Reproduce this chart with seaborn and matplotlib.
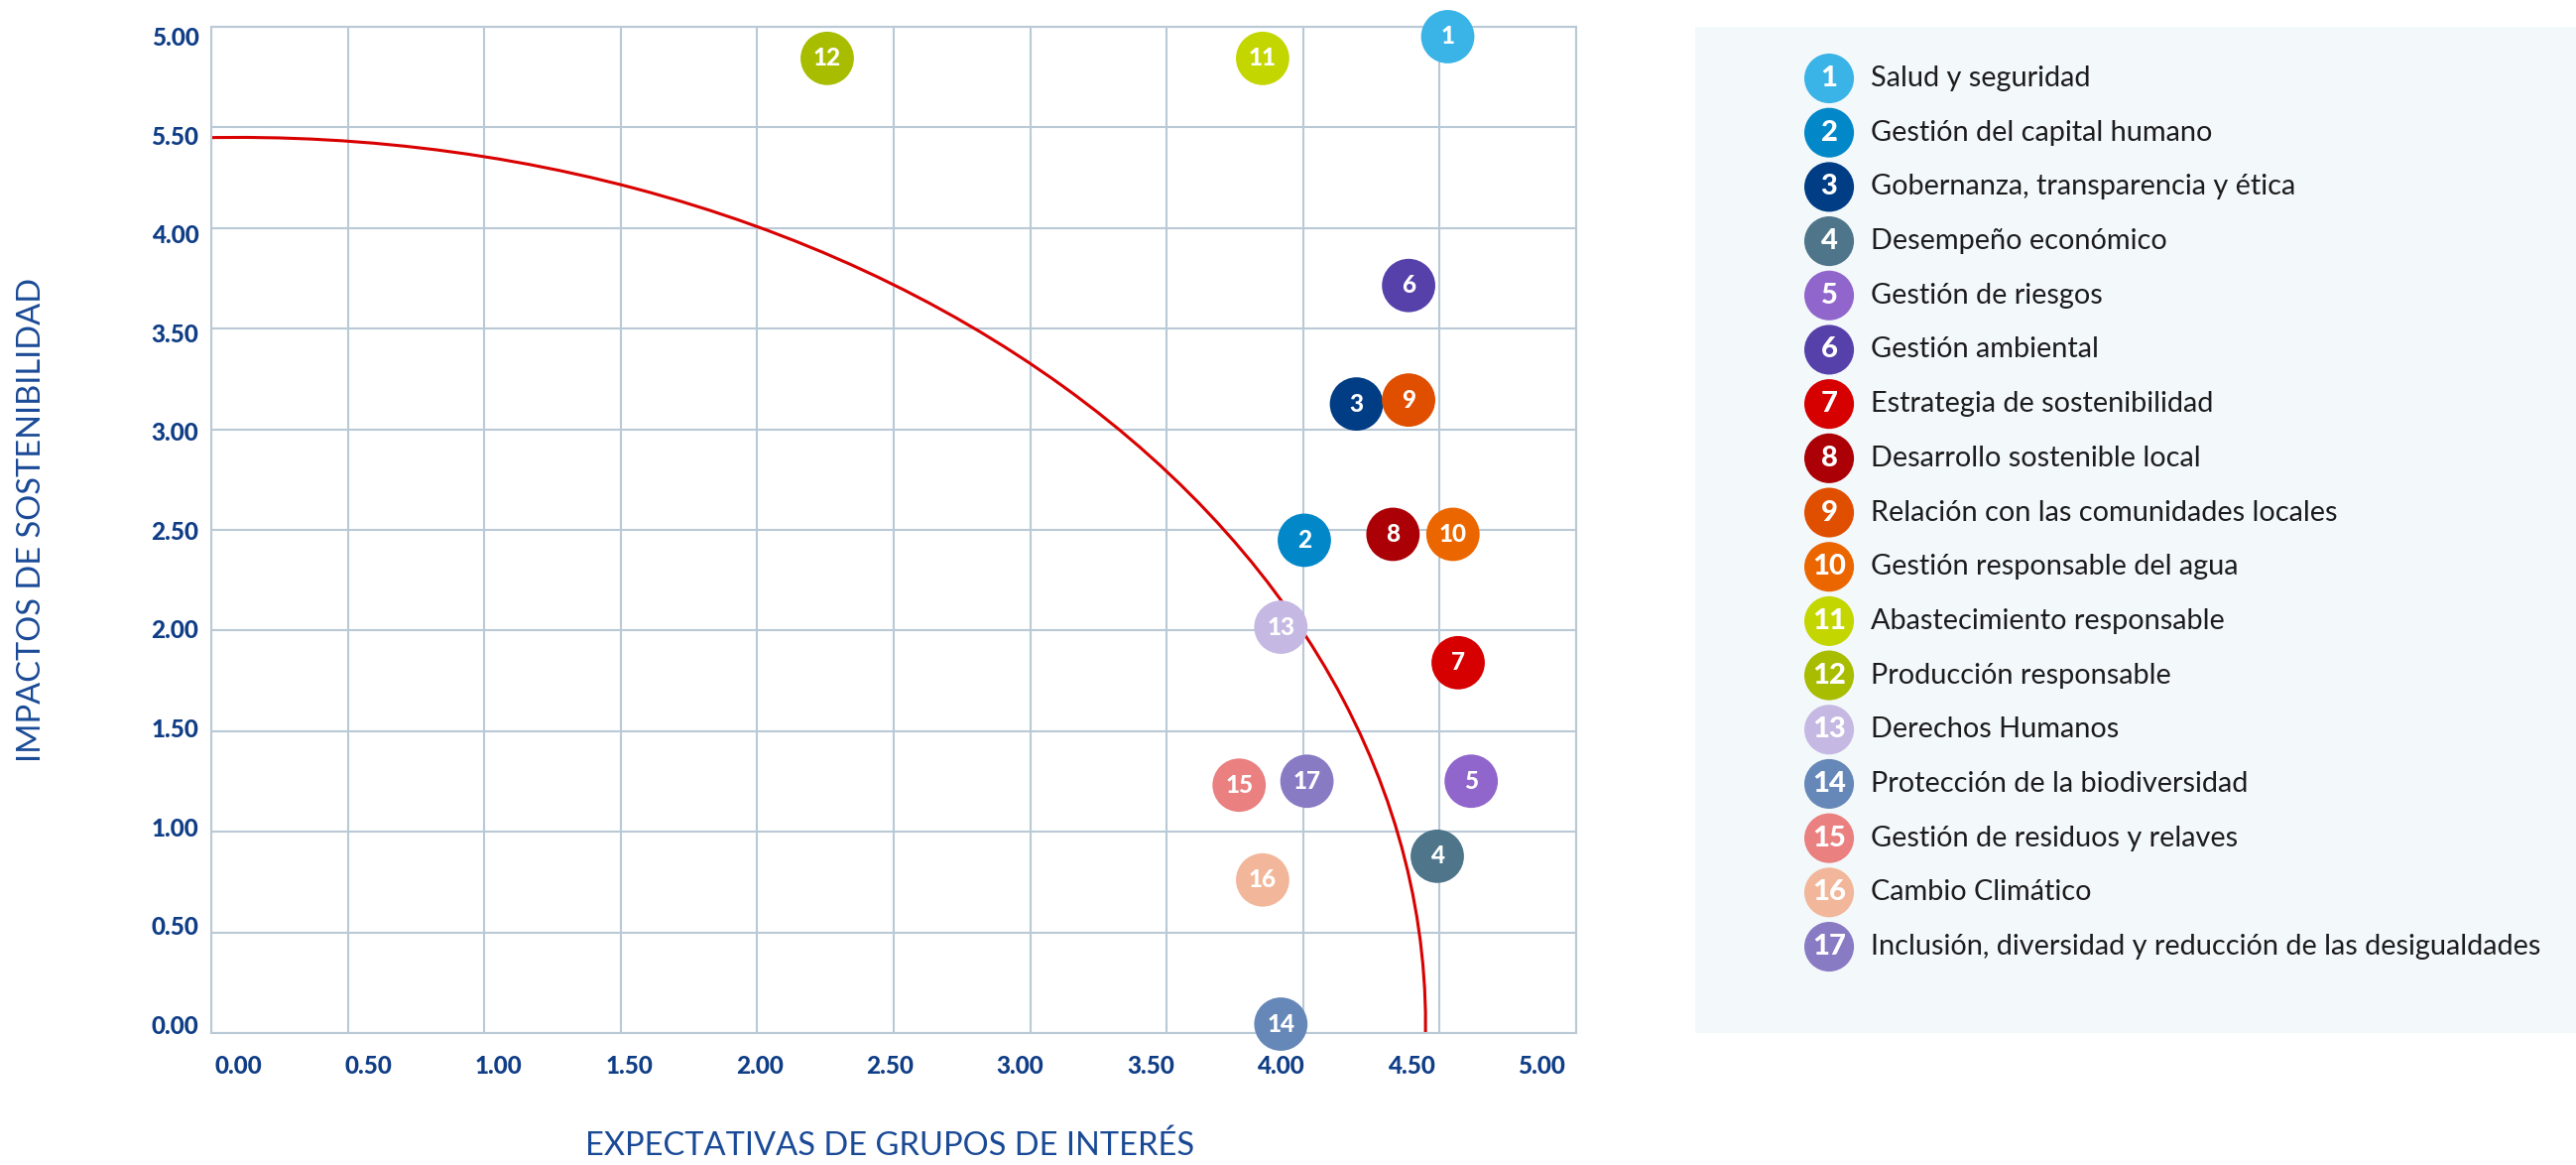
import numpy as np
import pandas as pd
import matplotlib
matplotlib.use("Agg")
import matplotlib.pyplot as plt
from matplotlib.patches import Arc
import seaborn as sns

# temas materiales (numero, nombre, expectativas, impactos, color)
ids = [str(i) for i in range(1, 18)]
temas = [
    "Salud y seguridad",
    "Gestión del capital humano",
    "Gobernanza, transparencia y ética",
    "Desempeño económico",
    "Gestión de riesgos",
    "Gestión ambiental",
    "Estrategia de sostenibilidad",
    "Desarrollo sostenible local",
    "Relación con las comunidades locales",
    "Gestión responsable del agua",
    "Abastecimiento responsable",
    "Producción responsable",
    "Derechos Humanos",
    "Protección de la biodiversidad",
    "Gestión de residuos y relaves",
    "Cambio Climático",
    "Inclusión, diversidad y reducción de las desigualdades",
]
expectativas = [4.64, 4.09, 4.29, 4.60, 4.73, 4.49, 4.68, 4.43, 4.49, 4.66,
                3.93, 2.26, 4.00, 4.00, 3.84, 3.93, 4.10]
impactos = [5.00, 2.45, 3.14, 0.85, 1.23, 3.74, 1.83, 2.48, 3.16, 2.48,
            4.89, 4.89, 2.01, 0.00, 1.21, 0.73, 1.23]
colores = ["#3ab4e6", "#0288c8", "#003d85", "#4e758a", "#9166cc", "#5641ab",
           "#d60000", "#aa0006", "#e04e00", "#ec6600", "#c4d600", "#a8bc00",
           "#c5b8e2", "#6688b8", "#ea8080", "#f2b79a", "#897ac4"]

tick_vals = [0.0, 0.5, 1.0, 1.5, 2.0, 2.5, 3.0, 3.5, 4.0, 4.5, 5.0]
xtick_labels = ["0.00", "0.50", "1.00", "1.50", "2.00", "2.50", "3.00",
                "3.50", "4.00", "4.50", "5.00"]
ytick_labels = ["0.00", "0.50", "1.00", "1.50", "2.00", "2.50", "3.00",
                "3.50", "4.00", "5.50", "5.00"]

# curva de materialidad (cuarto de elipse)
curva_a = 4.555
curva_b = 4.49

df = pd.DataFrame({"id": ids, "tema": temas, "x": expectativas, "y": impactos})
pal = dict(zip(ids, colores))

azul = "#0f3d86"
grid_c = "#b9c9d6"

sns.set_theme(style="white")
plt.rcParams["font.family"] = ["Lato", "DejaVu Sans"]

fig = plt.figure(figsize=(25.97, 11.74), dpi=100)
ax = fig.add_axes([0.0820, 0.1133, 0.5299, 0.8637])

xlim = (-0.1027, 5.133)
ylim = (-0.045, 5.050)
ax.set_xlim(*xlim)
ax.set_ylim(*ylim)

# grid lines sit on their own positions, labels on the data scale
ax.set_xticks(np.linspace(xlim[0], xlim[1], 11), minor=True)
ax.set_yticks(np.linspace(ylim[0], ylim[1], 11), minor=True)
ax.set_xticks(tick_vals)
ax.set_yticks(tick_vals)
ax.set_xticklabels(xtick_labels)
ax.set_yticklabels(ytick_labels)
ax.grid(False, which="major")
ax.grid(True, which="minor", color=grid_c, linewidth=1.5)
ax.tick_params(which="both", length=0)
ax.tick_params(axis="x", which="major", pad=16, labelsize=17.5, labelcolor=azul)
ax.tick_params(axis="y", which="major", pad=9, labelsize=17.5, labelcolor=azul)
for lab in ax.get_xticklabels() + ax.get_yticklabels():
    lab.set_fontweight("black")
for sp in ax.spines.values():
    sp.set_color(grid_c)
    sp.set_linewidth(1.5)
ax.set_axisbelow(True)

arc = Arc((0, 0), 2 * curva_a, 2 * curva_b, theta1=-3, theta2=95,
          color="#d90000", linewidth=2.2, zorder=2)
ax.add_patch(arc)

sns.scatterplot(data=df, x="x", y="y", hue="id", palette=pal, s=1500,
                linewidth=0, legend=False, ax=ax, clip_on=False, zorder=3)
for _, r in df.iterrows():
    ax.text(r["x"], r["y"], r["id"], color="white", fontsize=17.5,
            fontweight="black", ha="center", va="center", zorder=4)
ax.set_xlabel("")
ax.set_ylabel("")

fig.text(897 / 2597, 1 - 1155 / 1174, "EXPECTATIVAS DE GRUPOS DE INTERÉS",
         ha="center", va="center", fontsize=23.5, fontweight="normal",
         color="#1a4a96")
fig.text(32 / 2597, 1 - 524 / 1174, "IMPACTOS DE SOSTENIBILIDAD",
         ha="center", va="center", rotation=90, fontsize=23.5,
         fontweight="normal", color="#1a4a96")

# leyenda en panel aparte
lax = fig.add_axes([0.6581, 0.1133, 0.3419, 0.8637])
lax.set_facecolor("#f3f8fb")
for sp in lax.spines.values():
    sp.set_visible(False)
lax.set_xticks([])
lax.set_yticks([])
lax.set_xlim(0, 1)
lax.set_ylim(17.59, -0.951)
df["fila"] = range(len(df))
sns.scatterplot(data=df, x=np.full(len(df), 0.152), y="fila", hue="id",
                palette=pal, s=1300, linewidth=0, legend=False, ax=lax,
                clip_on=False)
for _, r in df.iterrows():
    lax.text(0.152, r["fila"], r["id"], color="white", fontsize=21,
             fontweight="black", ha="center", va="center")
    lax.text(0.199, r["fila"], r["tema"], color="#1c1c1c", fontsize=20.8,
             ha="left", va="center")
lax.set_xlabel("")
lax.set_ylabel("")

fig.savefig("out.png", dpi=100, facecolor="white")
